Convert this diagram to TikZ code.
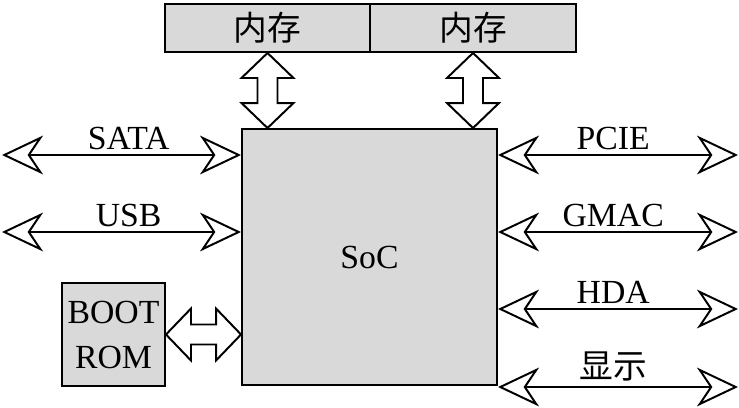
\documentclass[tikz,border=0pt]{standalone}
\usepackage{fontspec}
\setmainfont{Liberation Serif}
\newfontfamily\cjk{Noto Sans CJK SC}
\usetikzlibrary{arrows.meta, calc}
\definecolor{my_gray}{HTML}{D9D9D9}

\begin{document}
\begin{tikzpicture}[
    font=\fontsize{24}{32}\selectfont,
    block/.style={draw=black, fill=my_gray, line width=1.4pt, inner sep=2pt},
    link/.style={black, line width=1.4pt,
        >={Stealth[open, length=1.025cm, width=0.97cm, inset=0.325cm]}, <->},
    bus/.style={draw=black, fill=white, line width=1.4pt, to path={
        -- ($(\tikztostart)!0.625cm!(\tikztotarget)!0.65cm!90:(\tikztotarget)$)
        -- ($(\tikztostart)!0.625cm!(\tikztotarget)!0.25cm!90:(\tikztotarget)$)
        -- ($(\tikztotarget)!0.625cm!(\tikztostart)!0.25cm!-90:(\tikztostart)$)
        -- ($(\tikztotarget)!0.625cm!(\tikztostart)!0.65cm!-90:(\tikztostart)$)
        -- (\tikztotarget)
        -- ($(\tikztotarget)!0.625cm!(\tikztostart)!0.65cm!90:(\tikztostart)$)
        -- ($(\tikztotarget)!0.625cm!(\tikztostart)!0.25cm!90:(\tikztostart)$)
        -- ($(\tikztostart)!0.625cm!(\tikztotarget)!0.25cm!-90:(\tikztotarget)$)
        -- ($(\tikztostart)!0.625cm!(\tikztotarget)!0.65cm!-90:(\tikztotarget)$)
        -- cycle}}
]
\useasboundingbox (0,0) rectangle (18.475,10.175);

% ----------------------------------------------------------
% Bausteine
% ----------------------------------------------------------
\node[block, minimum width=6.375cm, minimum height=6.4cm] (soc) at (9.2375,3.75) {SoC};
\node[block, minimum width=5.125cm, minimum height=1.2cm] (mem1) at (6.6875,9.475) {\cjk 内存};
\node[block, minimum width=5.15cm, minimum height=1.2cm] (mem2) at (11.825,9.475) {\cjk 内存};
\node[block, minimum width=2.575cm, minimum height=2.575cm, align=center] (boot)
    at (2.8375,1.8125) {BOOT\\ROM};

% ----------------------------------------------------------
% Breite Busse (Speicher, Boot-ROM)
% ----------------------------------------------------------
\draw[bus] (mem1.south) to (mem1.south |- soc.north);
\draw[bus] (mem2.south) to (mem2.south |- soc.north);
\draw[bus] (boot.east) to (boot.east -| soc.west);

% ----------------------------------------------------------
% Schnittstellen links
% ----------------------------------------------------------
\coordinate (sata) at (0.05,6.3);
\coordinate (usb)  at (0.05,4.375);
\draw[link] (sata) -- node[above, pos=0.53] {SATA} (sata -| soc.west);
\draw[link] (usb)  -- node[above, pos=0.53] {USB}  (usb -| soc.west);

% ----------------------------------------------------------
% Schnittstellen rechts
% ----------------------------------------------------------
\coordinate (pcie) at (18.45,6.3);
\coordinate (gmac) at (18.45,4.375);
\coordinate (hda)  at (18.45,2.45);
\coordinate (disp) at (18.45,0.5);
\draw[link] (pcie -| soc.east) -- node[above, pos=0.48] {PCIE} (pcie);
\draw[link] (gmac -| soc.east) -- node[above, pos=0.48] {GMAC} (gmac);
\draw[link] (hda -| soc.east)  -- node[above, pos=0.48] {HDA}  (hda);
\draw[link] (disp -| soc.east) -- node[above, pos=0.48] {\cjk 显示} (disp);

\end{tikzpicture}
\end{document}
